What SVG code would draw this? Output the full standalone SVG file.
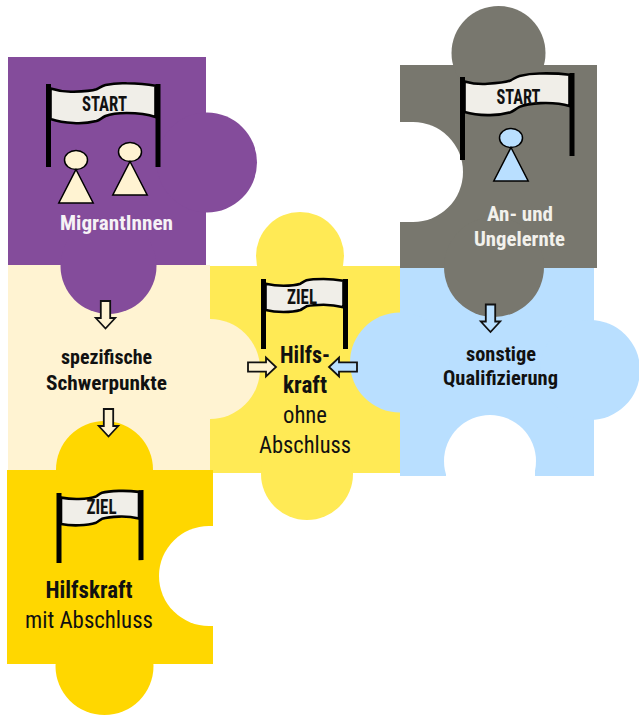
<svg xmlns="http://www.w3.org/2000/svg" width="639" height="715" viewBox="0 0 639 715">
<style>
text{font-family:"Roboto Condensed","Liberation Sans Narrow","Liberation Sans",sans-serif;text-anchor:middle;fill:#111}
.b{font-weight:700;font-size:19.500px}
.w{font-weight:700;font-size:20px;fill:#f6f2f6}
.g{font-weight:700;font-size:20px;fill:#f2f1ec}
.l{font-size:23px}
.h{font-weight:700;font-size:23px}
.f{font-weight:700;font-size:19.500px}
.pole{stroke:#000;stroke-width:5;fill:none}
.ban{fill:#f0eee8;stroke:#000;stroke-width:2.600}
.p{stroke:#000;stroke-width:1.500}
.a{stroke:#111;stroke-width:1.800}
.cream{fill:#fff3d2}
.blue{fill:#b9dfff}
</style>
<defs>
<g id="flag-start">
<path class="ban" d="M2 4.500C10 7 18 8 25 7.700C35 7.500 43 7 48 5.300C51 4 53 2 57 1C65-.7 72-1 78-.7C90-.5 100 .5 107 1.700V33C100 30.500 90 29 78 29C70 29 62 30 57 32C53 34 51 36 48 37C40 39 32 39.500 25 39C15 38.500 8 37 2 35Z"/>
<path class="pole" d="M0 0V83M109.500 0V83"/>
</g>
<g id="flag-ziel">
<path class="ban" d="M2 4.700C8 6 14 6.700 20 6.700C27 6.700 33 6 37 4.700C39 3.500 41 2 43 1.300C48 0 54 0 60 0C67 0 74 .7 80 1.700V28.300C74 26.700 67 25.700 60 25.700C54 25.700 48 26 43 27.300C41 28.300 39 30 37 31C32 32.500 26 33 20 33C14 33 8 32.500 2 31Z"/>
<path class="pole" d="M0 0V70M82 0V70"/>
</g>
<g id="person">
<ellipse class="p" cx="0" cy="0" rx="11.500" ry="9.500"/>
<path class="p" d="M0 9.500L17.200 43H-17.200Z"/>
</g>
<path id="arrow-r" class="a" d="M0-4.700H18V-9.500L28 0L18 9.500V4.700H0Z"/>
<path id="arrow-l" class="a" d="M28-4.700H10V-9.500L0 0L10 9.500V4.700H28Z"/>
<path id="arrow-d" class="a" d="M-4.700 0H4.700V17H9.700L0 27.500L-9.700 17H-4.700Z"/>
</defs>

<g id="node-yellow">
<g fill="#ffea55">
<rect x="210" y="266" width="190" height="207"/>
<circle cx="300" cy="256" r="44"/>
<circle cx="307" cy="474" r="46"/>
</g>
<use href="#flag-ziel" x="263.500" y="279"/>
<text class="f" x="302" y="304" textLength="30" lengthAdjust="spacingAndGlyphs">ZIEL</text>
<text class="h" x="305" y="363" textLength="50" lengthAdjust="spacingAndGlyphs">Hilfs-</text>
<text class="h" x="305" y="393" textLength="44" lengthAdjust="spacingAndGlyphs">kraft</text>
<text class="l" x="305" y="423" textLength="44" lengthAdjust="spacingAndGlyphs">ohne</text>
<text class="l" x="305" y="453" textLength="92" lengthAdjust="spacingAndGlyphs">Abschluss</text>
</g>

<g id="node-cream">
<g class="cream">
<rect x="8" y="265" width="202" height="205"/>
<circle cx="210" cy="369" r="50"/>
</g>
<text class="b" x="106.500" y="364" textLength="91" lengthAdjust="spacingAndGlyphs">spezifische</text>
<text class="b" x="106.500" y="390" textLength="121" lengthAdjust="spacingAndGlyphs">Schwerpunkte</text>
</g>

<g id="node-gold">
<g fill="#ffd700">
<rect x="7" y="470" width="206" height="194"/>
<circle cx="104.500" cy="469.500" r="48.500"/>
<circle cx="104.500" cy="666" r="49"/>
</g>
<g fill="#fff">
<circle cx="209" cy="576" r="50"/>
<rect x="209" y="526" width="6" height="100"/>
</g>
<use href="#flag-ziel" transform="translate(59 493) skewY(-2)"/>
<text class="f" x="101.500" y="514" textLength="30" lengthAdjust="spacingAndGlyphs">ZIEL</text>
<text class="h" x="89" y="598" textLength="87" lengthAdjust="spacingAndGlyphs">Hilfskraft</text>
<text class="l" x="89" y="628" textLength="128" lengthAdjust="spacingAndGlyphs">mit Abschluss</text>
</g>

<g id="node-purple">
<g fill="#844c9b">
<rect x="8" y="57" width="198" height="208"/>
<circle cx="207" cy="162.500" r="50"/>
<circle cx="108.500" cy="266" r="48"/>
</g>
<use href="#flag-start" x="48.500" y="84"/>
<text class="f" x="104.500" y="111" textLength="45" lengthAdjust="spacingAndGlyphs">START</text>
<use href="#person" class="cream" x="76" y="160"/>
<use href="#person" class="cream" x="130" y="152"/>
<text class="w" x="116.500" y="230" textLength="113" lengthAdjust="spacingAndGlyphs">MigrantInnen</text>
</g>

<g id="node-blue">
<g class="blue">
<rect x="400" y="265" width="194" height="211"/>
<circle cx="400" cy="362.500" r="50"/>
<circle cx="590" cy="370" r="50"/>
</g>
<g fill="#fff">
<circle cx="490" cy="461" r="46"/>
<rect x="446" y="461" width="89" height="16"/>
</g>
<text class="b" x="501" y="361" textLength="70" lengthAdjust="spacingAndGlyphs">sonstige</text>
<text class="b" x="500.500" y="385" textLength="115" lengthAdjust="spacingAndGlyphs">Qualifizierung</text>
</g>

<g id="node-grey">
<g fill="#78776e">
<rect x="400" y="65" width="197" height="203"/>
<circle cx="498.500" cy="53" r="47"/>
<circle cx="494" cy="267" r="50"/>
</g>
<g fill="#fff">
<circle cx="413" cy="172" r="50"/>
<rect x="399" y="122" width="14" height="100"/>
</g>
<use href="#flag-start" transform="translate(462.500 77) skewY(-2.100)"/>
<text class="f" x="518.500" y="104" textLength="44" lengthAdjust="spacingAndGlyphs">START</text>
<use href="#person" class="blue" x="511" y="138"/>
<text class="g" x="520" y="221" textLength="66" lengthAdjust="spacingAndGlyphs">An- und</text>
<text class="g" x="519.500" y="246" textLength="91" lengthAdjust="spacingAndGlyphs">Ungelernte</text>
</g>

<g id="connectors">
<use href="#arrow-d" class="cream" x="105.500" y="301"/>
<use href="#arrow-d" class="cream" x="108.500" y="409"/>
<use href="#arrow-d" class="blue" x="490.500" y="304.500"/>
<use href="#arrow-r" class="cream" x="248" y="367"/>
<use href="#arrow-l" class="blue" x="329" y="367"/>
</g>
</svg>
